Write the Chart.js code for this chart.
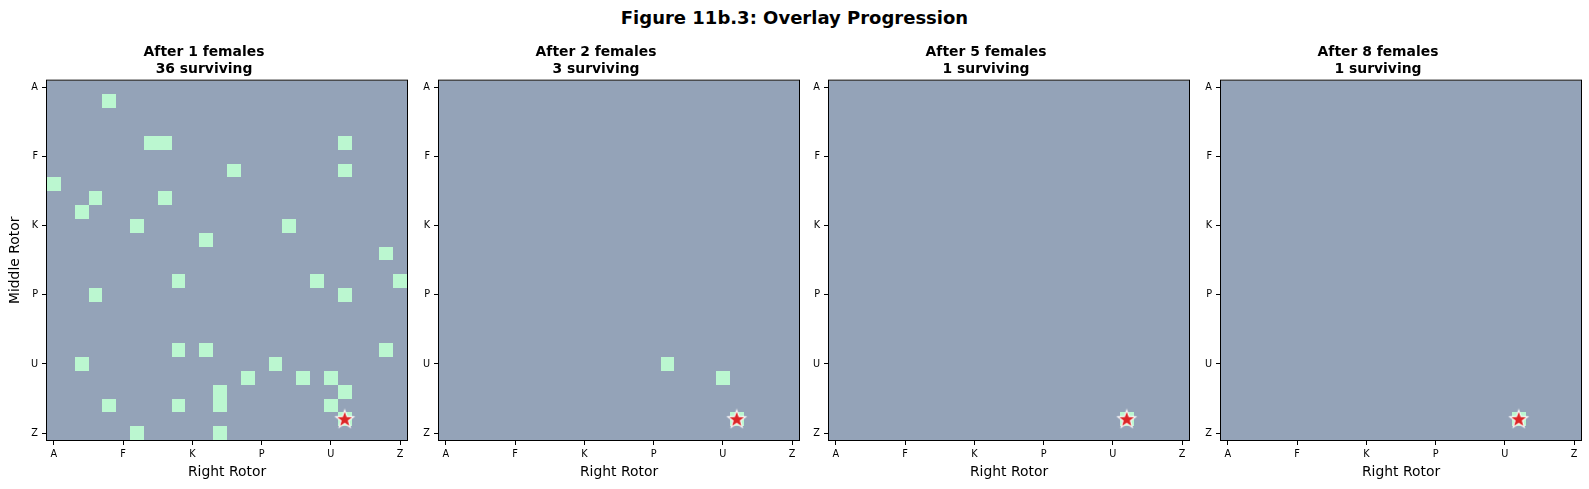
<!DOCTYPE html>
<html>
<head>
<meta charset="utf-8">
<script src="https://cdn.jsdelivr.net/npm/chart.js@4.4.1/dist/chart.umd.min.js"></script>
<style>
  html, body { margin: 0; padding: 0; background: #ffffff; }
  body { width: 1589px; height: 489px; position: relative; overflow: hidden; font-family: "DejaVu Sans", sans-serif; }
  #suptitle { position: absolute; left: 0; top: 7px; width: 1589px; text-align: center; font-weight: bold; font-size: 18px; line-height: 22px; color: #000; }
  canvas.panel { position: absolute; top: 30px; }
</style>
</head>
<body>
<div id="suptitle">Figure 11b.3: Overlay Progression</div>
<canvas id="p0" class="panel" width="452" height="459" style="left:1px"></canvas>
<canvas id="p1" class="panel" width="452" height="459" style="left:393px"></canvas>
<canvas id="p2" class="panel" width="452" height="459" style="left:783px"></canvas>
<canvas id="p3" class="panel" width="452" height="459" style="left:1175px"></canvas>
<script>
// ---- categories / tick labels ----
const letters = ['A','B','C','D','E','F','G','H','I','J','K','L','M','N','O','P','Q','R','S','T','U','V','W','X','Y','Z'];
const tickLetters = ['A','F','K','P','U','Z'];

// ---- panel headings ----
const femalesCounts = [1, 2, 5, 8];
const survivingCounts = [36, 3, 1, 1];

// ---- surviving (right rotor, middle rotor) after each step ----
const after1Right  = ['E','H','I','V','N','V','A','D','I','C','G','R','L','Y','J','T','Z','D','V','J','L','Y','C','Q','O','S','U','V','M','M','E','J','U','V','G','M'];
const after1Middle = ['B','E','E','E','G','G','H','I','I','J','K','K','L','M','O','O','O','P','P','T','T','T','U','U','V','V','V','W','W','X','X','X','X','Y','Z','Z'];
const after2Right  = ['Q','U','V'];
const after2Middle = ['U','V','Y'];
const after5Right  = ['V'];
const after5Middle = ['Y'];
const after8Right  = ['V'];
const after8Middle = ['Y'];

// ---- true key (star) ----
const keyRight = ['V'];
const keyMiddle = ['Y'];

const panelsRight  = [after1Right, after2Right, after5Right, after8Right];
const panelsMiddle = [after1Middle, after2Middle, after5Middle, after8Middle];

const BG = '#94a3b8';
const CELL = '#bbf7d0';
const FONT = '"DejaVu Sans", sans-serif';

// star marker image
function makeStar() {
  const c = document.createElement('canvas');
  c.width = 22; c.height = 22;
  const g = c.getContext('2d');
  const cx = 11, cy = 11.3, R = 9.4, r = 3.9;
  g.beginPath();
  for (let i = 0; i < 10; i++) {
    const a = -Math.PI / 2 + i * Math.PI / 5;
    const rad = i % 2 === 0 ? R : r;
    const px = cx + rad * Math.cos(a), py = cy + rad * Math.sin(a);
    if (i === 0) g.moveTo(px, py); else g.lineTo(px, py);
  }
  g.closePath();
  g.fillStyle = '#dc2626';
  g.fill();
  g.lineWidth = 1.1;
  g.strokeStyle = '#ffffff';
  g.stroke();
  return c;
}
const starImg = makeStar();

const heatPlugin = {
  id: 'heatCells',
  beforeDatasetsDraw(chart) {
    const {ctx, chartArea, scales: {x, y}} = chart;
    ctx.save();
    ctx.fillStyle = BG;
    ctx.fillRect(chartArea.left, chartArea.top, chartArea.right - chartArea.left, chartArea.bottom - chartArea.top);
    ctx.fillStyle = CELL;
    const ds = chart.data.datasets[0];
    ds.data.forEach(p => {
      const x1 = Math.round(x.getPixelForValue(p.x - 0.5));
      const x2 = Math.round(x.getPixelForValue(p.x + 0.5));
      const y1 = Math.round(y.getPixelForValue(p.y - 0.5));
      const y2 = Math.round(y.getPixelForValue(p.y + 0.5));
      ctx.fillRect(Math.min(x1, x2), Math.min(y1, y2), Math.abs(x2 - x1), Math.abs(y2 - y1));
    });
    ctx.restore();
  },
  afterDraw(chart) {
    const {ctx, chartArea} = chart;
    ctx.save();
    ctx.strokeStyle = '#000';
    ctx.lineWidth = 1;
    ctx.strokeRect(chartArea.left - 0.5, chartArea.top - 0.5, chartArea.right - chartArea.left + 1, chartArea.bottom - chartArea.top + 1);
    ctx.restore();
  }
};

function letterTicks(scale) {
  scale.ticks = tickLetters.map(l => ({ value: letters.indexOf(l) }));
}

for (let i = 0; i < 4; i++) {
  const cells = panelsRight[i].map((r, k) => ({ x: letters.indexOf(r), y: letters.indexOf(panelsMiddle[i][k]) }));
  const star = keyRight.map((r, k) => ({ x: letters.indexOf(r), y: letters.indexOf(keyMiddle[k]) }));
  new Chart(document.getElementById('p' + i), {
    type: 'scatter',
    data: {
      datasets: [
        { label: 'Surviving', data: cells, pointRadius: 0, pointHoverRadius: 0 },
        { label: 'True key', data: star, pointStyle: starImg, pointRadius: 10, pointHoverRadius: 10 }
      ]
    },
    options: {
      responsive: false,
      animation: false,
      events: [],
      layout: { padding: { left: 0, right: 46, top: 0, bottom: 0 } },
      plugins: {
        legend: { display: false },
        tooltip: { enabled: false },
        title: {
          display: true,
          text: ['After ' + femalesCounts[i] + ' females', survivingCounts[i] + ' surviving'],
          color: '#000',
          font: { family: FONT, size: 13.9, weight: 'bold', lineHeight: 1.2 },
          padding: { top: 14.2, bottom: 3.1 }
        }
      },
      scales: {
        x: {
          type: 'linear', min: -0.5, max: 25.5,
          afterBuildTicks: letterTicks,
          afterFit: s => { s.height = 49; s.paddingLeft = 0; s.paddingRight = 0; },
          ticks: { autoSkip: false, maxRotation: 0, padding: 4, color: '#000', font: { family: FONT, size: 9.7 }, callback: v => letters[v] },
          grid: { display: true, drawOnChartArea: false, drawTicks: true, tickLength: 5, color: '#000', tickWidth: 1 },
          border: { display: false },
          title: { display: true, text: 'Right Rotor', color: '#000', font: { family: FONT, size: 13.9 }, padding: { top: 0, bottom: 8.7 } }
        },
        y: {
          type: 'linear', min: -0.5, max: 25.5, reverse: true,
          afterBuildTicks: letterTicks,
          afterFit: s => { s.width = 46; },
          ticks: { autoSkip: false, padding: 4, color: '#000', font: { family: FONT, size: 9.7 }, callback: v => letters[v] },
          grid: { display: true, drawOnChartArea: false, drawTicks: true, tickLength: 5, color: '#000', tickWidth: 1 },
          border: { display: false },
          title: { display: i === 0, text: 'Middle Rotor', color: '#000', font: { family: FONT, size: 13.9 }, padding: { top: 6, bottom: 0 } }
        }
      }
    },
    plugins: [heatPlugin]
  });
}
</script>
</body>
</html>
